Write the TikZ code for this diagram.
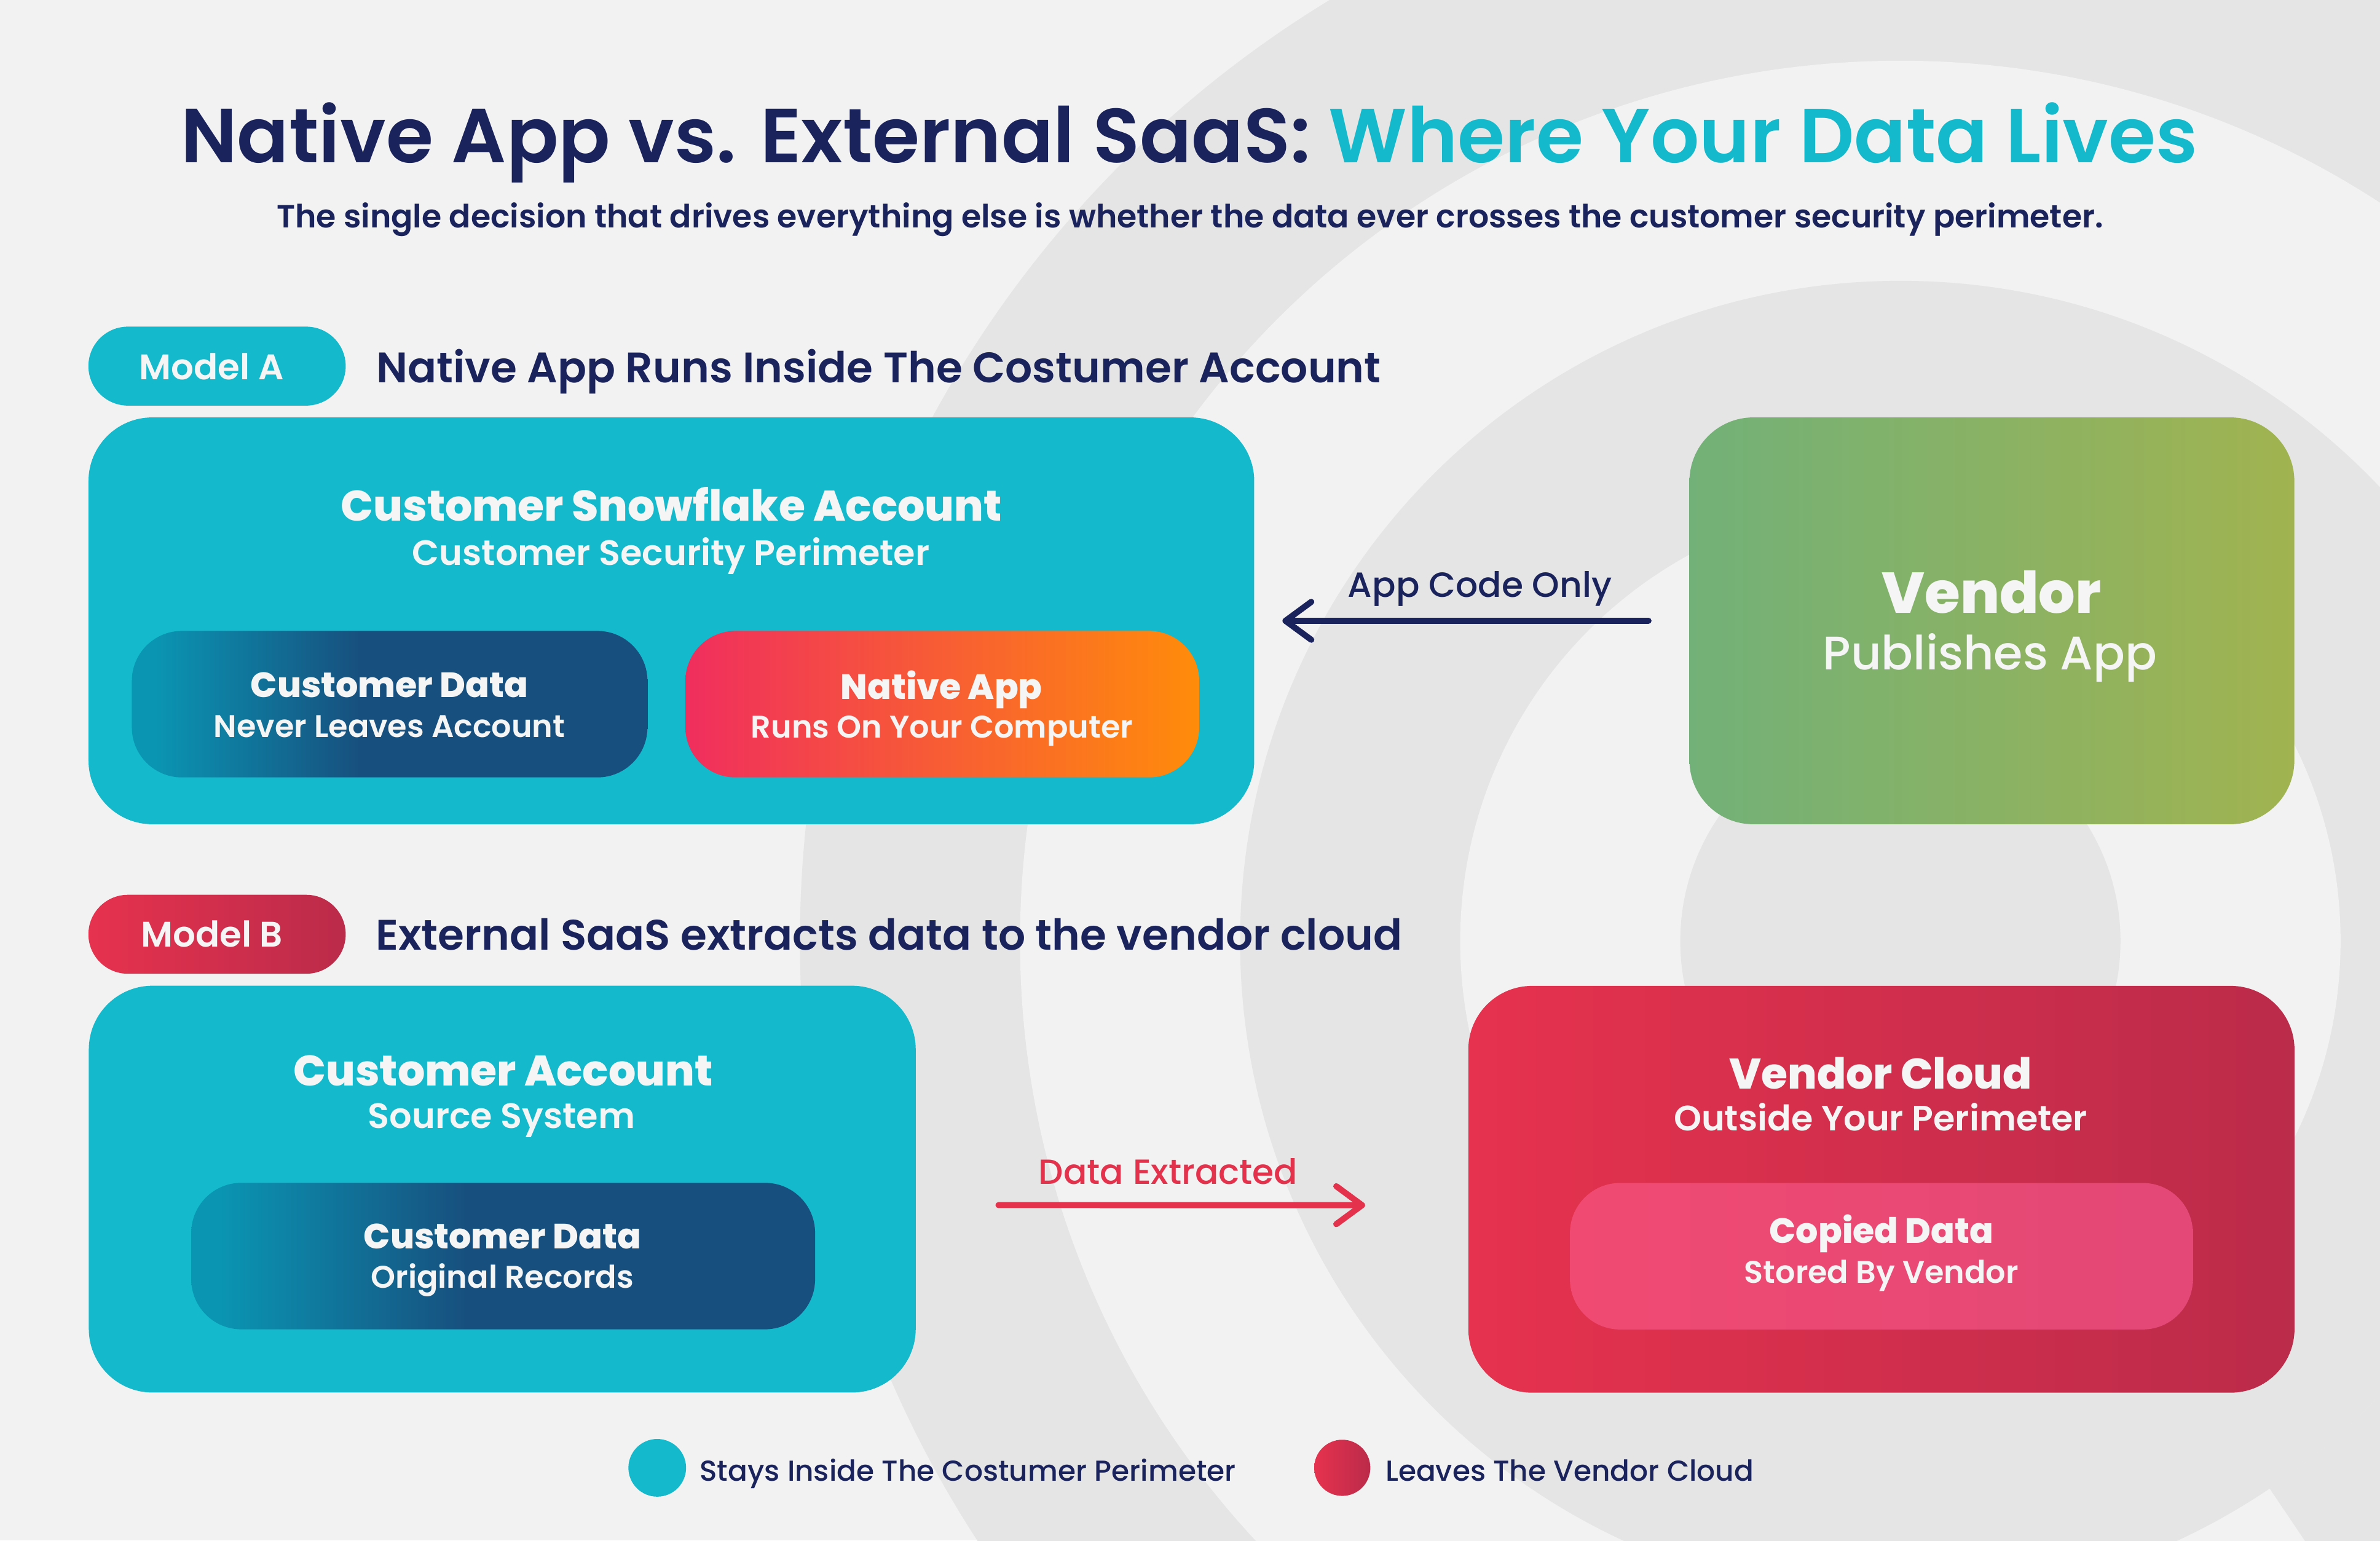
\documentclass[tikz,border=0pt]{standalone}
\usepackage{fontspec}
\setmainfont{Poppins}
\newfontfamily\popmed{Poppins Medium}
\newfontfamily\popsemi{Poppins SemiBold}
\newfontfamily\popheavy{Poppins ExtraBold}
\usetikzlibrary{arrows.meta}

\definecolor{pagebg}{RGB}{242,242,242}
\definecolor{ringgray}{RGB}{229,229,229}
\definecolor{inknavy}{RGB}{27,35,92}
\definecolor{brandteal}{RGB}{20,185,204}
\definecolor{boxwhite}{RGB}{245,245,245}
\definecolor{cdteal}{RGB}{10,150,179}
\definecolor{cdnavy}{RGB}{23,80,127}
\definecolor{apppink}{RGB}{240,46,94}
\definecolor{apporange}{RGB}{255,140,10}
\definecolor{vendleft}{RGB}{114,177,120}
\definecolor{vendright}{RGB}{161,179,80}
\definecolor{redleft}{RGB}{230,50,78}
\definecolor{redright}{RGB}{187,43,74}
\definecolor{copyleft}{RGB}{240,74,114}
\definecolor{copyrt}{RGB}{227,72,118}
\definecolor{linkred}{RGB}{228,50,77}

\pgfdeclarehorizontalshading{custdatashade}{100bp}{color(0bp)=(cdteal); color(27bp)=(cdteal); color(47bp)=(cdnavy); color(100bp)=(cdnavy)}

\begin{document}
\begin{tikzpicture}[x=1pt, y=-1pt,
    box/.style={rounded corners=42pt, inner sep=0pt, outer sep=0pt, minimum height=268pt},
    innerbox/.style={rounded corners=33pt, inner sep=0pt, outer sep=0pt, minimum height=96.5pt},
    pill/.style={rounded corners=26pt, inner sep=0pt, outer sep=0pt, minimum width=169.5pt, minimum height=52pt},
    boxtitle/.style={anchor=base, text=boxwhite, font=\popheavy\fontsize{28.2}{32}\selectfont},
    boxsub/.style={anchor=base, text=boxwhite, font=\popsemi\fontsize{23.2}{26}\selectfont},
    innertitle/.style={anchor=base, text=boxwhite, font=\popheavy\fontsize{23.1}{26}\selectfont},
    innersub/.style={anchor=base, text=boxwhite, font=\popsemi\fontsize{20.6}{23}\selectfont},
    heading/.style={anchor=base west, text=inknavy, font=\popsemi\fontsize{28.1}{32}\selectfont},
    pilltext/.style={anchor=base, text=boxwhite, font=\popsemi\fontsize{23.4}{26}\selectfont},
    linklabel/.style={anchor=base, font=\popmed\fontsize{23}{26}\selectfont},
    legendtext/.style={anchor=base west, text=inknavy, font=\popmed\fontsize{19.05}{22}\selectfont},
    link/.style={line width=4pt, line cap=round, -{Straight Barb[length=17pt, width=25pt, round]}}]

    \useasboundingbox (0,0) rectangle (1568,1015);
    \fill[pagebg] (0,0) rectangle (1568,1015);
    \begin{scope}
        \clip (0,0) rectangle (1568,1015);
        \coordinate (ringc) at (1252,620);
        \fill[ringgray] (ringc) circle[radius=725];
        \fill[pagebg] (ringc) circle[radius=580];
        \fill[ringgray] (ringc) circle[radius=435];
        \fill[pagebg] (ringc) circle[radius=290];
        \fill[ringgray] (ringc) circle[radius=145];
        \fill[ringgray] (ringc) ++(56:580) arc[start angle=56, end angle=-12, radius=580]
            -- ++(-12:-145) arc[start angle=-12, end angle=56, radius=435] -- cycle;
    \end{scope}

    \node[anchor=base, font=\popsemi\fontsize{50.5}{56}\selectfont] (title) at (783.5,107.3)
        {\textcolor{inknavy}{Native App vs. External SaaS:} \textcolor{brandteal}{Where Your Data Lives}};
    \node[anchor=base, text=inknavy, font=\popsemi\fontsize{21.1}{24}\selectfont] (subtitle) at (784,150)
        {The single decision that drives everything else is whether the data ever crosses the customer security perimeter.};

    \node[pill, fill=brandteal] (pillA) at (143,241.2) {};
    \node[pilltext] (pillAtext) at (139.4,250.2) {Model A};
    \node[heading] (headA) at (244.5,252) {Native App Runs Inside The Costumer Account};

    \node[box, minimum width=768pt, fill=brandteal] (snowacct) at (442.3,409) {};
    \node[boxtitle] (snowtitle) at (442.3,343) {Customer Snowflake Account};
    \node[boxsub] (snowsub) at (442,372.2) {Customer Security Perimeter};
    \node[innerbox, minimum width=339.7pt, shade, shading=custdatashade] (custdataA) at (256.7,463.9) {};
    \node[innertitle] (custdataAtitle) at (256.5,459.4) {Customer Data};
    \node[innersub] (custdataAsub) at (256.6,485.6) {Never Leaves Account};
    \node[innerbox, minimum width=338.5pt, left color=apppink, right color=apporange] (nativeapp) at (620.8,463.9) {};
    \node[innertitle] (nativeapptitle) at (620.3,460.5) {Native App};
    \node[innersub] (nativeappsub) at (620.6,486) {Runs On Your Computer};

    \node[box, minimum width=398.5pt, left color=vendleft, right color=vendright] (vendor) at (1312.3,409) {};
    \node[anchor=base, text=boxwhite, font=\popheavy\fontsize{37.9}{42}\selectfont] (vendortitle) at (1312,404) {Vendor};
    \node[anchor=base, text=boxwhite, font=\popmed\fontsize{31}{34}\selectfont] (vendorsub) at (1311,441) {Publishes App};

    \draw[link, inknavy, shorten <=27pt, shorten >=18.6pt] (vendor.west)
        -- node[linklabel, text=inknavy, pos=0.4815, yshift=15.5pt] (codelabel) {App Code Only} (snowacct.east);

    \node[pill, left color=redleft, right color=redright] (pillB) at (143,615.5) {};
    \node[pilltext] (pillBtext) at (139.6,624) {Model B};
    \node[heading] (headB) at (244,626) {External SaaS extracts data to the vendor cloud};

    \node[box, minimum width=544.8pt, fill=brandteal] (custacct) at (330.9,783.4) {};
    \node[boxtitle] (custaccttitle) at (331.5,715.3) {Customer Account};
    \node[boxsub] (custacctsub) at (330.5,743.2) {Source System};
    \node[innerbox, minimum width=411pt, shade, shading=custdatashade] (custdataB) at (331.5,827.5) {};
    \node[innertitle] (custdataBtitle) at (331,822.8) {Customer Data};
    \node[innersub] (custdataBsub) at (331,848.6) {Original Records};

    \node[box, minimum width=544.3pt, left color=redleft, right color=redright] (vcloud) at (1239.5,783.5) {};
    \node[boxtitle] (vcloudtitle) at (1239,717.3) {Vendor Cloud};
    \node[boxsub] (vcloudsub) at (1239,745) {Outside Your Perimeter};
    \node[innerbox, minimum width=410.4pt, left color=copyleft, right color=copyrt] (copied) at (1239.5,827.6) {};
    \node[innertitle] (copiedtitle) at (1239.5,819.2) {Copied Data};
    \node[innersub] (copiedsub) at (1239.5,845.2) {Stored By Vendor};

    \draw[link, linkred, shorten <=54.5pt, shorten >=68pt] ([yshift=-10.5pt]custacct.east)
        -- node[linklabel, text=linkred, pos=0.457, yshift=14pt] (extractlabel) {Data Extracted} ([yshift=-10.5pt]vcloud.west);

    \node[circle, inner sep=0pt, minimum size=38pt, fill=brandteal] (keyteal) at (433,967) {};
    \node[legendtext] (keytealtext) at (457.5,975.7) {Stays Inside The Costumer Perimeter};
    \node[circle, inner sep=0pt, minimum size=37pt, left color=redleft, right color=redright] (keyred) at (884.3,967) {};
    \node[legendtext] (keyredtext) at (909.3,975.7) {Leaves The Vendor Cloud};
\end{tikzpicture}
\end{document}
